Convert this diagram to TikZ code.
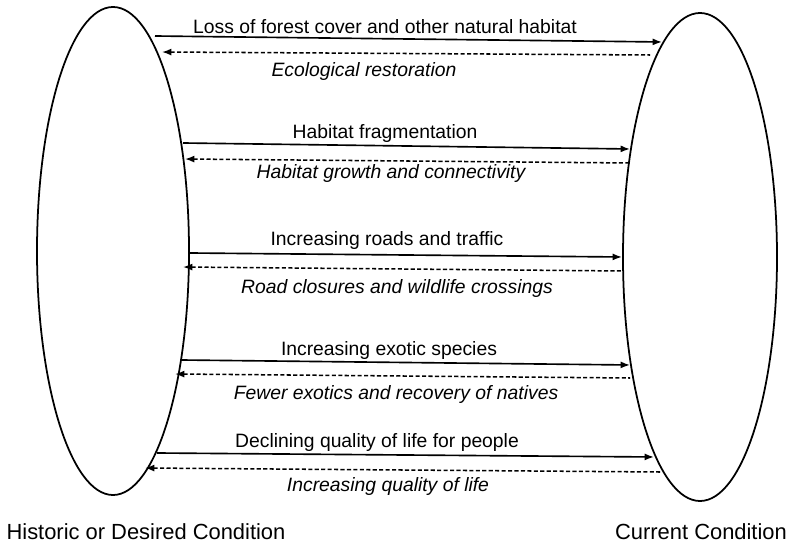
\documentclass[tikz,border=0pt]{standalone}
\usepackage{fontspec}
\setmainfont{Liberation Sans}
\usetikzlibrary{arrows.meta}
\usetikzlibrary{shapes.geometric}
\tikzset{>={Latex[length=8pt,width=6pt]}}
\tikzset{cond/.style={draw, ellipse, line width=1.5pt, inner sep=0pt}}
\tikzset{fwd/.style={->, line width=1.4pt}}
\tikzset{back/.style={<-, line width=1.3pt, dash pattern=on 3.5pt off 2pt}}
\tikzset{lbl/.style={anchor=base, inner sep=0pt, font=\fontsize{16.5}{19}\selectfont}}
\tikzset{lbli/.style={lbl, font=\fontsize{16.5}{19}\selectfont\itshape}}
\tikzset{condlbl/.style={anchor=base, inner sep=0pt, font=\fontsize{18.7}{22}\selectfont}}

\begin{document}
\begin{tikzpicture}[x=0.03cm, y=-0.03cm]
	\useasboundingbox (0,0) rectangle (788,545);
	\node[cond, minimum width=4.56cm, minimum height=14.64cm] (hist) at (113,251) {};
	\node[cond, minimum width=4.62cm, minimum height=14.64cm] (curr) at (700,257) {};
	\node[condlbl] (histlbl) at (146,539) {Historic or Desired Condition};
	\node[condlbl] (currlbl) at (701,539) {Current Condition};
	% forest cover
	\coordinate (h1) at (155,36);
	\coordinate (c1) at (662,42);
	\coordinate (hd1) at (162,52);
	\coordinate (cd1) at (650,55);
	\draw[fwd] (h1) -- (c1);
	\draw[back] (hd1) -- (cd1);
	\node[lbl] (loss) at (385,34) {Loss of forest cover and other natural habitat};
	\node[lbli] (restore) at (364,77) {Ecological restoration};
	% fragmentation
	\coordinate (h2) at (183,143);
	\coordinate (c2) at (630,149);
	\coordinate (hd2) at (185,159);
	\coordinate (cd2) at (630,163);
	\draw[fwd] (h2) -- (c2);
	\draw[back] (hd2) -- (cd2);
	\node[lbl] (frag) at (385,139) {Habitat fragmentation};
	\node[lbli] (growth) at (391,179) {Habitat growth and connectivity};
	% roads
	\coordinate (h3) at (190,253);
	\coordinate (c3) at (622,257);
	\coordinate (hd3) at (183,267);
	\coordinate (cd3) at (623,271);
	\draw[fwd] (h3) -- (c3);
	\draw[back] (hd3) -- (cd3);
	\node[lbl] (roads) at (387,246) {Increasing roads and traffic};
	\node[lbli] (closures) at (397,294) {Road closures and wildlife crossings};
	% exotics
	\coordinate (h4) at (181,360);
	\coordinate (c4) at (630,365);
	\coordinate (hd4) at (175,374);
	\coordinate (cd4) at (630,378);
	\draw[fwd] (h4) -- (c4);
	\draw[back] (hd4) -- (cd4);
	\node[lbl] (exotic) at (389,356) {Increasing exotic species};
	\node[lbli] (natives) at (396,399) {Fewer exotics and recovery of natives};
	% quality of life
	\coordinate (h5) at (157,453);
	\coordinate (c5) at (654,457);
	\coordinate (hd5) at (145,468);
	\coordinate (cd5) at (660,472);
	\draw[fwd] (h5) -- (c5);
	\draw[back] (hd5) -- (cd5);
	\node[lbl] (decline) at (377,447) {Declining quality of life for people};
	\node[lbli] (quality) at (388,491) {Increasing quality of life};
\end{tikzpicture}
\end{document}
